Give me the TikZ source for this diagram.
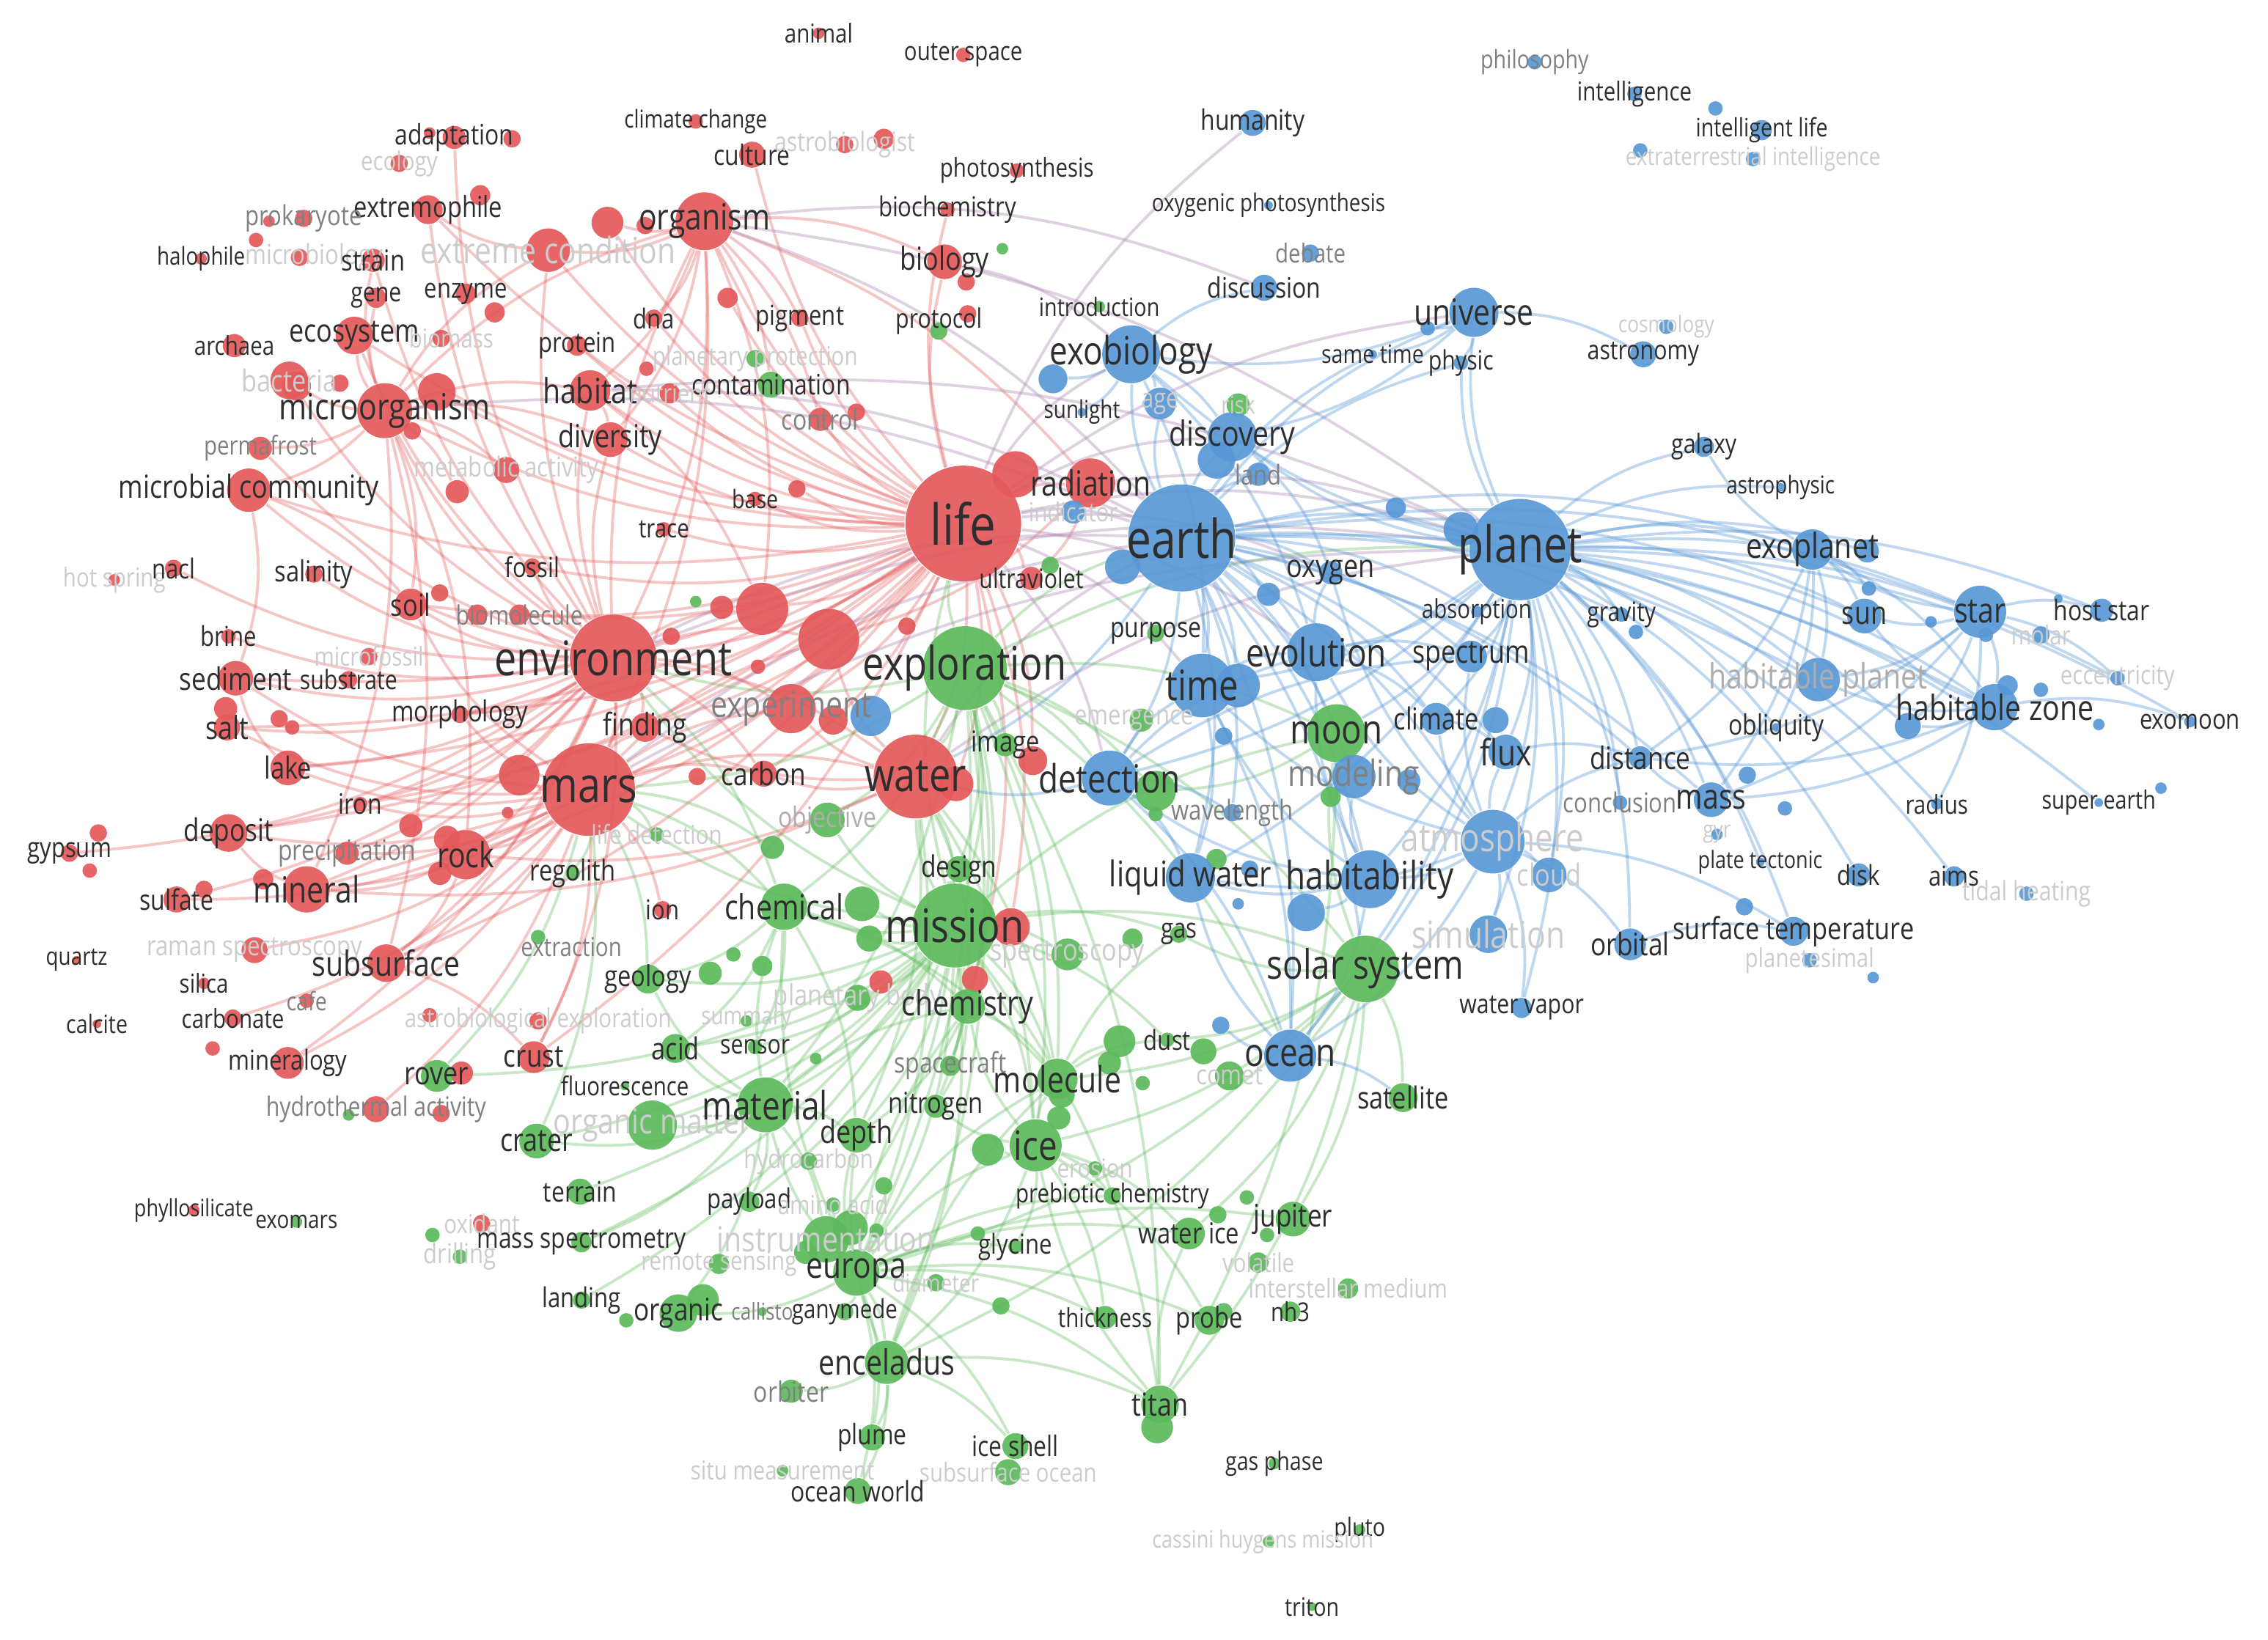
\documentclass[tikz,border=0pt]{standalone}
\usepackage{fontspec}
\setmainfont{Open Sans}[FakeStretch=0.83]
\definecolor{kred}{RGB}{228,88,90}
\definecolor{kgreen}{RGB}{92,186,92}
\definecolor{kblue}{RGB}{88,152,214}
\definecolor{kmix}{RGB}{175,140,180}
\pgfdeclarelayer{bg}\pgfdeclarelayer{edges}\pgfdeclarelayer{fg}
\pgfsetlayers{bg,edges,main,fg}
\tikzset{
 ball/.style={circle,inner sep=0pt,draw=none,fill opacity=0.92},
 lab/.style={inner sep=0pt,text=black!82},
 labg/.style={inner sep=0pt,text=black!50},
 labm/.style={inner sep=0pt,text=black!32},
 labf/.style={inner sep=0pt,text=black!20},
 er/.style={draw=kred,opacity=0.34,line width=0.55pt},
 eg/.style={draw=kgreen,opacity=0.34,line width=0.55pt},
 eb/.style={draw=kblue,opacity=0.38,line width=0.55pt},
 em/.style={draw=kmix,opacity=0.4,line width=0.55pt},
 lk/.style={bend left=14},
}
\newcommand\kw[8][lab]{%
 \node[ball,fill=#6,minimum size=#5*0.2mm] (#2) at (#3,#4) {};%
 \pgfmathsetmacro\kwfs{#7*0.2845}%
 \begin{pgfonlayer}{fg}\node[#1,font=\fontsize{\kwfs pt}{\kwfs pt}\selectfont] (#2-l) at (#2) {#8};\end{pgfonlayer}}
\newcommand\kdot[5]{\node[ball,fill=#5,minimum size=#4*0.2mm] (#1) at (#2,#3) {};}
\begin{document}
\begin{tikzpicture}[x=0.1mm,y=-0.1mm,line cap=round]
\useasboundingbox (0,0) rectangle (1568,1134);
\begin{pgfonlayer}{bg}\fill[white] (0,0) rectangle (1568,1134);\end{pgfonlayer}
% ---------------- red cluster
\kw{animal}{566}{23}{4}{kred}{18}{animal}
\kw{outerspace}{666}{38}{5}{kred}{18}{outer space}
\kw{climchange}{481}{84}{5}{kred}{17}{climate change}
\kw{culture}{520}{107}{9}{kred}{19.5}{culture}
\kw[labf]{astrobiologist}{584}{100}{6}{kred}{18.5}{astrobiologist}
\kdot{r2}{611}{96}{7}{kred}
\kw{photosyn}{703}{118}{5}{kred}{18}{photosynthesis}
\kw{biochem}{655}{145}{5}{kred}{19}{biochemistry}
\kw{organism}{487}{153}{20}{kred}{25}{organism}
\kdot{r3}{420}{154}{11}{kred}
\kdot{r4}{446}{156}{6}{kred}
\kw{biology}{653}{181}{12}{kred}{22}{biology}
\kdot{r5}{668}{195}{6}{kred}
\kdot{g1}{693}{172}{4}{kgreen}
\kw{pigment}{553}{220}{6}{kred}{19}{pigment}
\kdot{r6b}{669}{217}{6}{kred}
\kw[lab,yshift=0.7mm]{protocol}{649}{229}{6}{kgreen}{18.5}{protocol}
\kw{dna}{452}{220}{6}{kred}{19}{dna}
\kdot{r6}{503}{206}{7}{kred}
\kw{protein}{399}{239}{7}{kred}{19}{protein}
\kw[labf]{planprot}{522}{248}{6}{kgreen}{18}{planetary protection}
\kdot{r7}{447}{255}{5}{kred}
\kw{contamination}{533}{266}{9}{kgreen}{19.5}{contamination}
\kw{habitat}{408}{270}{14}{kred}{24}{habitat}
\kw[labf]{nutrient}{463}{272}{7}{kred}{18}{nutrient}
\kw[labg]{control}{567}{290}{8}{kred}{19.5}{control}
\kdot{r8}{592}{285}{6}{kred}
\kw{diversity}{422}{304}{12}{kred}{22}{diversity}
\kw{base}{522}{345}{5}{kred}{17.5}{base}
\kdot{r9}{551}{338}{6}{kred}
\kw{trace}{459}{366}{5}{kred}{18}{trace}
\kdot{r10}{702}{328}{16}{kred}
\kw{radiation}{754}{334}{17}{kred}{24}{radiation}
\kw[labf]{indicator}{742}{354}{8}{kblue}{18}{indicator}
\kw{life}{666}{362}{40}{kred}{39}{life}
\kw{adaptation}{314}{95}{8}{kred}{19.5}{adaptation}
\kdot{r11}{354}{96}{6}{kred}
\kdot{r12}{297}{92}{4}{kred}
\kw[labf]{ecology}{276}{113}{6}{kred}{18}{ecology}
\kw{extremophile}{296}{145}{10}{kred}{20}{extremophile}
\kdot{r13}{332}{135}{7}{kred}
\kw[labg]{prokaryote}{210}{151}{6}{kred}{19}{prokaryote}
\kdot{r14}{186}{153}{4}{kred}
\kdot{r15}{177}{166}{5}{kred}
\kw{halophile}{139}{179}{4}{kred}{17}{halophile}
\kw[labf,xshift=1mm]{microbiology}{207}{178}{6}{kred}{19}{microbiology}
\kw{strain}{258}{180}{8}{kred}{20}{strain}
\kw[labf]{extremecond}{379}{173}{15}{kred}{25}{extreme condition}
\kw{gene}{260}{206}{7}{kred}{18.5}{gene}
\kw{enzyme}{322}{203}{7}{kred}{19}{enzyme}
\kdot{r16}{342}{216}{7}{kred}
\kw{ecosystem}{245}{232}{13}{kred}{22}{ecosystem}
\kw[labf,xshift=0.7mm]{biomass}{305}{234}{6}{kred}{18}{biomass}
\kw{archaea}{162}{239}{8}{kred}{18}{archaea}
\kw[labf]{bacteria}{200}{263}{13}{kred}{21}{bacteria}
\kdot{r17}{205}{267}{10}{kred}
\kdot{r18}{235}{265}{6}{kred}
\kdot{r19}{302}{271}{13}{kred}
\kw{microorganism}{266}{284}{19}{kred}{25}{microorganism}
\kdot{r20}{285}{298}{6}{kred}
\kw[labg]{permafrost}{180}{310}{8}{kred}{18}{permafrost}
\kw[labf]{metabolic}{350}{325}{9}{kred}{19}{metabolic activity}
\kdot{r21}{316}{340}{8}{kred}
\kw{microbialcom}{172}{339}{15}{kred}{22}{microbial community}
\kw[labf]{hotspring}{79}{401}{4}{kred}{18}{hot spring}
\kw{nacl}{120}{393}{6}{kred}{19}{nacl}
\kw{salinity}{217}{397}{6}{kred}{20}{salinity}
\kw{fossil}{368}{392}{6}{kred}{19}{fossil}
\kw{soil}{284}{418}{11}{kred}{21}{soil}
\kdot{r22}{304}{410}{6}{kred}
\kdot{r23}{330}{425}{7}{kred}
\kw[labg]{biomolecule}{359}{425}{7}{kred}{18.5}{biomolecule}
\kw{brine}{158}{440}{5}{kred}{19}{brine}
\kw[labf]{microfossil}{255}{454}{6}{kred}{18}{microfossil}
\kw{sediment}{163}{469}{12}{kred}{21.5}{sediment}
\kw{substrate}{241}{470}{6}{kred}{18.5}{substrate}
\kdot{r24}{156}{490}{8}{kred}
\kw{salt}{157}{503}{9}{kred}{22}{salt}
\kdot{r25}{193}{497}{6}{kred}
\kdot{r26}{202}{503}{5}{kred}
\kw{environment}{424}{455}{30}{kred}{33}{environment}
\kw{morphology}{318}{494}{6}{kred}{20}{morphology}
\kw{finding}{446}{503}{10}{kred}{21.5}{finding}
\kw{lake}{199}{531}{12}{kred}{21}{lake}
\kdot{r27}{359}{536}{14}{kred}
\kw{mars}{407}{546}{32}{kred}{34}{mars}
\kw{iron}{249}{556}{5}{kred}{19.5}{iron}
\kdot{r28}{284}{571}{8}{kred}
\kdot{r29}{351}{562}{4}{kred}
\kw{deposit}{158}{576}{13}{kred}{21.5}{deposit}
\kw{gypsum}{48}{590}{6}{kred}{19}{gypsum}
\kdot{r30}{68}{576}{6}{kred}
\kdot{r31}{62}{602}{5}{kred}
\kw[labg]{precipitation}{240}{590}{8}{kred}{19.5}{precipitation}
\kdot{r32}{309}{580}{9}{kred}
\kdot{r33}{304}{604}{8}{kred}
\kw{rock}{322}{591}{17}{kred}{24}{rock}
\kw{sulfate}{122}{622}{9}{kred}{19.5}{sulfate}
\kdot{r34}{141}{615}{6}{kred}
\kdot{r35}{182}{608}{7}{kred}
\kw{mineral}{212}{615}{16}{kred}{25}{mineral}
\kw{quartz}{53}{664}{3}{kred}{17}{quartz}
\kw[labf]{raman}{176}{657}{9}{kred}{19}{raman spectroscopy}
\kw{subsurface}{267}{666}{13}{kred}{24}{subsurface}
\kw{silica}{141}{680}{4}{kred}{18}{silica}
\kw[labg]{cafe}{212}{692}{5}{kred}{17.5}{cafe}
\kw{calcite}{67}{708}{3}{kred}{17.5}{calcite}
\kw{carbonate}{161}{704}{6}{kred}{18}{carbonate}
\kw[labf]{astroexpl}{372}{706}{6}{kred}{18}{astrobiological exploration}
\kdot{r36}{297}{702}{5}{kred}
\kw{mineralogy}{199}{735}{11}{kred}{19}{mineralogy}
\kdot{r37}{147}{725}{5}{kred}
\kw{crust}{369}{731}{11}{kred}{21.5}{crust}
\kw[labg]{hydrothermal}{260}{767}{9}{kred}{18.5}{hydrothermal activity}
\kdot{r38}{305}{770}{6}{kred}
\kdot{g2}{241}{771}{4}{kgreen}
\kw{phyllosilicate}{134}{837}{4}{kred}{16.5}{phyllosilicate}
\kw[labf]{oxidant}{333}{846}{6}{kred}{18}{oxidant}
\kdot{g3}{299}{854}{5}{kgreen}
\kw{ion}{458}{629}{6}{kred}{19}{ion}
\kdot{rbig1}{527}{421}{18}{kred}
\kdot{rbig2}{573}{442}{21}{kred}
\kdot{r39}{576}{498}{10}{kred}
\kdot{r40}{499}{420}{8}{kred}
\kdot{r41}{464}{440}{6}{kred}
\kdot{r42}{627}{433}{6}{kred}
\kdot{r43}{524}{461}{5}{kred}
\kdot{r44}{482}{537}{6}{kred}
\kdot{r45}{661}{542}{12}{kred}
\kdot{r46}{714}{526}{10}{kred}
\kdot{r47}{699}{641}{13}{kred}
\kdot{r48}{609}{679}{8}{kred}
\kdot{r49}{674}{677}{9}{kred}
\kdot{r50}{319}{742}{8}{kred}
\kw[labg]{experiment}{547}{490}{17}{kred}{25}{experiment}
\kdot{b1}{602}{495}{14}{kblue}
\kw{carbon}{528}{535}{9}{kred}{21.5}{carbon}
\kw{water}{633}{537}{29}{kred}{32}{water}
\kw{ultraviolet}{713}{400}{8}{kred}{18.5}{ultraviolet}
% ---------------- green cluster
\kw{introduction}{760}{212}{4}{kgreen}{17.5}{introduction}
\kw[labf]{risk}{856}{280}{8}{kgreen}{17}{risk}
\kw{exploration}{667}{462}{29}{kgreen}{32}{exploration}
\kdot{g4}{481}{416}{4}{kgreen}
\kdot{g5}{726}{391}{6}{kgreen}
\kw{image}{695}{515}{8}{kgreen}{20}{image}
\kw[labm]{objective}{572}{567}{12}{kgreen}{19.5}{objective}
\kw[labf]{lifedetect}{454}{577}{5}{kgreen}{18}{life detection}
\kdot{g6}{534}{586}{8}{kgreen}
\kw{design}{663}{601}{9}{kgreen}{20.5}{design}
\kw{chemical}{542}{627}{16}{kgreen}{24}{chemical}
\kdot{g7}{596}{625}{12}{kgreen}
\kdot{g8}{601}{649}{9}{kgreen}
\kw{mission}{660}{640}{29}{kgreen}{32}{mission}
\kw[labf]{spectroscopy}{738}{660}{11}{kgreen}{21}{spectroscopy}
\kw{geology}{448}{677}{10}{kgreen}{20}{geology}
\kdot{g9}{491}{673}{8}{kgreen}
\kdot{g10}{507}{660}{5}{kgreen}
\kdot{g11}{527}{668}{7}{kgreen}
\kw{regolith}{396}{604}{5}{kgreen}{20}{regolith}
\kw[labg,xshift=2.3mm,yshift=-0.7mm]{extraction}{372}{648}{5}{kgreen}{18}{extraction}
\kw[labf]{planbody}{593}{690}{9}{kgreen}{20}{planetary body}
\kw{chemistry}{669}{696}{12}{kgreen}{24}{chemistry}
\kw{acid}{467}{725}{10}{kgreen}{21}{acid}
\kw[labf]{summary}{516}{706}{4}{kgreen}{17}{summary}
\kw{sensor}{522}{724}{5}{kgreen}{18.5}{sensor}
\kdot{g12}{564}{732}{4}{kgreen}
\kw[labg]{spacecraft}{657}{737}{7}{kgreen}{19.5}{spacecraft}
\kdot{g13}{774}{720}{11}{kgreen}
\kdot{g14}{767}{735}{8}{kgreen}
\kdot{g15}{790}{749}{5}{kgreen}
\kdot{g18}{734}{757}{9}{kgreen}
\kw{molecule}{731}{746}{14}{kgreen}{25}{molecule}
\kw{fluorescence}{432}{751}{3}{kgreen}{18}{fluorescence}
\kw[labf]{organicmatter}{451}{778}{17}{kgreen}{24}{organic matter}
\kw{material}{529}{764}{19}{kgreen}{27}{material}
\kw{crater}{371}{789}{12}{kgreen}{22}{crater}
\kw{rover}{302}{744}{11}{kgreen}{22}{rover}
\kw{nitrogen}{647}{765}{8}{kgreen}{20}{nitrogen}
\kw{depth}{592}{785}{12}{kgreen}{22}{depth}
\kdot{g16}{683}{795}{11}{kgreen}
\kdot{g17}{732}{773}{8}{kgreen}
\kw{ice}{716}{792}{18}{kgreen}{28}{ice}
\kw[labf]{hydrocarbon}{559}{803}{6}{kgreen}{18}{hydrocarbon}
\kw[labf]{erosion}{757}{808}{5}{kgreen}{18}{erosion}
\kw{terrain}{401}{824}{9}{kgreen}{19.5}{terrain}
\kw{payload}{518}{831}{7}{kgreen}{19}{payload}
\kw[labf]{aminoacid}{576}{833}{5}{kgreen}{18}{amino acid}
\kdot{g19}{611}{820}{6}{kgreen}
\kw{prebiotic}{769}{827}{6}{kgreen}{18}{prebiotic chemistry}
\kdot{g20}{588}{849}{12}{kgreen}
\kdot{g21}{557}{866}{8}{kgreen}
\kdot{g22}{606}{851}{5}{kgreen}
\kw[labf]{instrumentation}{571}{857}{16}{kgreen}{24}{instrumentation}
\kw{massspec}{402}{859}{7}{kgreen}{19.5}{mass spectrometry}
\kw[labf]{remotesensing}{497}{874}{7}{kgreen}{18}{remote sensing}
\kw{glycine}{702}{862}{5}{kgreen}{19}{glycine}
\kdot{g23}{676}{853}{5}{kgreen}
\kw{waterice}{822}{853}{11}{kgreen}{20}{water ice}
\kdot{g24}{842}{840}{6}{kgreen}
\kdot{g25}{862}{828}{5}{kgreen}
\kw{jupiter}{894}{843}{12}{kgreen}{21.5}{jupiter}
\kdot{g26}{876}{854}{5}{kgreen}
\kw[labf]{volatile}{870}{873}{7}{kgreen}{18}{volatile}
\kw{europa}{592}{880}{16}{kgreen}{25}{europa}
\kw[labf]{diameter}{647}{887}{6}{kgreen}{17}{diameter}
\kw{landing}{402}{899}{6}{kgreen}{19}{landing}
\kdot{g27}{486}{899}{11}{kgreen}
\kdot{g28}{433}{913}{5}{kgreen}
\kw{organic}{469}{908}{13}{kgreen}{21.5}{organic}
\kw[labg]{callisto}{527}{907}{3}{kgreen}{16}{callisto}
\kw{ganymede}{584}{907}{6}{kgreen}{18}{ganymede}
\kw{thickness}{764}{911}{8}{kgreen}{18}{thickness}
\kdot{g29}{692}{903}{6}{kgreen}
\kdot{g30}{846}{907}{6}{kgreen}
\kw{probe}{836}{913}{10}{kgreen}{20}{probe}
\kw{nh3}{892}{907}{7}{kgreen}{18}{nh3}
\kw[labf]{ism}{932}{891}{7}{kgreen}{18}{interstellar medium}
\kw{enceladus}{613}{942}{15}{kgreen}{24}{enceladus}
\kw[labg]{orbiter}{547}{962}{8}{kgreen}{19.5}{orbiter}
\kdot{g31}{800}{987}{11}{kgreen}
\kw{titan}{802}{971}{13}{kgreen}{22}{titan}
\kw{plume}{603}{994}{9}{kgreen}{19.5}{plume}
\kw[labf]{subocean}{697}{1018}{9}{kgreen}{18}{subsurface ocean}
\kw{iceshell}{702}{1000}{9}{kgreen}{19.5}{ice shell}
\kw[labf]{situ}{541}{1017}{4}{kgreen}{18}{situ measurement}
\kw{oceanworld}{593}{1031}{9}{kgreen}{19.5}{ocean world}
\kw{gasphase}{881}{1012}{4}{kgreen}{17.5}{gas phase}
\kw{pluto}{940}{1058}{4}{kgreen}{17.5}{pluto}
\kw[labf,xshift=-0.4mm]{cassini}{877}{1066}{4}{kgreen}{16.5}{cassini huygens mission}
\kw{triton}{907}{1111}{3}{kgreen}{17.5}{triton}
\kw{satellite}{970}{759}{10}{kgreen}{21}{satellite}
\kw{dust}{807}{719}{5}{kgreen}{19}{dust}
\kdot{g33}{832}{727}{9}{kgreen}
\kw[labf]{comet}{850}{744}{10}{kgreen}{19}{comet}
\kdot{g34}{783}{649}{7}{kgreen}
\kw{gas}{815}{646}{6}{kgreen}{19}{gas}
\kw{moon}{924}{507}{20}{kgreen}{28}{moon}
\kdot{g35}{920}{551}{7}{kgreen}
\kdot{g36}{799}{547}{14}{kgreen}
\kdot{g37}{799}{563}{5}{kgreen}
\kdot{g38}{841}{594}{7}{kgreen}
\kw{solarsystem}{944}{670}{23}{kgreen}{28}{solar system}
\kw{purpose}{799}{438}{6}{kgreen}{19.5}{purpose}
\kw[labf,xshift=-0.5mm]{emergence}{789}{498}{8}{kgreen}{19}{emergence}
\kw{exomars}{205}{845}{4}{kgreen}{17}{exomars}
\kw[labf]{drilling}{318}{869}{5}{kgreen}{19}{drilling}
% ---------------- blue cluster
\kdot{b2}{776}{392}{12}{kblue}
\kw{earth}{817}{372}{37}{kblue}{37}{earth}
\kdot{b4}{1010}{366}{12}{kblue}
\kdot{b5}{965}{351}{7}{kblue}
\kw{planet}{1051}{380}{35}{kblue}{35}{planet}
\kw{humanity}{866}{85}{9}{kblue}{19.5}{humanity}
\kw[labg]{philosophy}{1061}{43}{5}{kblue}{17.5}{philosophy}
\kw{intelligence}{1130}{65}{5}{kblue}{18}{intelligence}
\kdot{b6}{1186}{75}{5}{kblue}
\kw{intlife}{1218}{90}{7}{kblue}{17.5}{intelligent life}
\kw[labf]{eti}{1212}{110}{5}{kblue}{17}{extraterrestrial intelligence}
\kdot{b7}{1134}{104}{5}{kblue}
\kw{oxyphoto}{877}{142}{3}{kblue}{17}{oxygenic photosynthesis}
\kw[labg]{debate}{906}{175}{6}{kblue}{18}{debate}
\kw{discussion}{874}{199}{9}{kblue}{19.5}{discussion}
\kdot{b8}{987}{227}{5}{kblue}
\kw{universe}{1019}{216}{17}{kblue}{25}{universe}
\kw[labf]{cosmology}{1152}{226}{5}{kblue}{16}{cosmology}
\kw{astronomy}{1136}{245}{9}{kblue}{18.5}{astronomy}
\kw{sametime}{949}{245}{3}{kblue}{17.5}{same time}
\kw{physic}{1010}{251}{5}{kblue}{18.5}{physic}
\kdot{b9}{728}{262}{10}{kblue}
\kw{exobiology}{782}{245}{20}{kblue}{27}{exobiology}
\kw{sunlight}{748}{285}{3}{kblue}{17}{sunlight}
\kw[labf]{age}{802}{279}{11}{kblue}{19}{age}
\kdot{b10}{841}{318}{13}{kblue}
\kw{discovery}{852}{302}{17}{kblue}{24}{discovery}
\kw[labg]{land}{870}{328}{8}{kblue}{19}{land}
\kw{galaxy}{1178}{309}{7}{kblue}{18.5}{galaxy}
\kw{astrophysic}{1231}{337}{3}{kblue}{17}{astrophysic}
\kdot{b11}{1291}{381}{8}{kblue}
\kw{exoplanet}{1253}{380}{14}{kblue}{24}{exoplanet}
\kdot{b12}{1292}{407}{5}{kblue}
\kw{sun}{1289}{426}{12}{kblue}{22}{sun}
\kdot{b13}{1335}{430}{4}{kblue}
\kdot{b14}{1373}{439}{5}{kblue}
\kw{star}{1369}{423}{18}{kblue}{24}{star}
\kw{hoststar}{1453}{422}{8}{kblue}{19.5}{host star}
\kdot{b15}{1423}{414}{3}{kblue}
\kw[labf]{molar}{1411}{439}{6}{kblue}{18}{molar}
\kw{gravity}{1121}{425}{5}{kblue}{18.5}{gravity}
\kdot{b16}{1131}{437}{5}{kblue}
\kw{absorption}{1021}{423}{4}{kblue}{18}{absorption}
\kdot{b17}{877}{411}{8}{kblue}
\kw{oxygen}{920}{396}{8}{kblue}{22}{oxygen}
\kw{spectrum}{1017}{454}{11}{kblue}{22}{spectrum}
\kw{evolution}{910}{451}{20}{kblue}{27}{evolution}
\kdot{b18}{856}{474}{15}{kblue}
\kw{time}{831}{474}{22}{kblue}{29}{time}
\kw[labm]{habplanet}{1257}{470}{15}{kblue}{24}{habitable planet}
\kw[labf]{eccentricity}{1464}{469}{5}{kblue}{18}{eccentricity}
\kdot{b19}{1034}{498}{9}{kblue}
\kw{climate}{993}{497}{11}{kblue}{21}{climate}
\kw{flux}{1041}{520}{12}{kblue}{25}{flux}
\kw{obliquity}{1228}{503}{3}{kblue}{19.5}{obliquity}
\kdot{b20}{1388}{474}{7}{kblue}
\kdot{b21}{1411}{477}{5}{kblue}
\kdot{b22}{1319}{502}{9}{kblue}
\kw{habzone}{1379}{489}{16}{kblue}{24}{habitable zone}
\kw{exomoon}{1514}{499}{4}{kblue}{19}{exomoon}
\kdot{b23}{1451}{501}{4}{kblue}
\kw{distance}{1134}{524}{8}{kblue}{21.5}{distance}
\kw{detection}{767}{538}{19}{kblue}{27}{detection}
\kw[labg]{conclusion}{1120}{555}{5}{kblue}{19}{conclusion}
\kdot{b24}{1208}{536}{6}{kblue}
\kdot{b25}{1234}{559}{5}{kblue}
\kw{mass}{1183}{553}{12}{kblue}{24}{mass}
\kw{radius}{1339}{556}{4}{kblue}{18}{radius}
\kw{superearth}{1451}{555}{3}{kblue}{17.5}{super earth}
\kdot{b26}{1494}{545}{4}{kblue}
\kw[labf]{atmosphere}{1032}{582}{22}{kblue}{27}{atmosphere}
\kw[labf]{cloud}{1071}{605}{12}{kblue}{21}{cloud}
\kw[labf]{gyr}{1187}{577}{4}{kblue}{16}{gyr}
\kw{platetect}{1217}{596}{3}{kblue}{16.5}{plate tectonic}
\kw{disk}{1285}{605}{8}{kblue}{19}{disk}
\kw{aims}{1351}{606}{7}{kblue}{19}{aims}
\kw[labf]{tidal}{1401}{618}{5}{kblue}{18.5}{tidal heating}
\kw{liquidwater}{823}{607}{17}{kblue}{24.5}{liquid water}
\kdot{b27}{903}{631}{13}{kblue}
\kw{habitability}{947}{608}{20}{kblue}{27}{habitability}
\kw[labf]{simulation}{1029}{646}{13}{kblue}{26}{simulation}
\kw{orbital}{1127}{653}{11}{kblue}{21.5}{orbital}
\kdot{b28}{1206}{627}{6}{kblue}
\kw{surftemp}{1240}{644}{10}{kblue}{21}{surface temperature}
\kw[labf]{planetesimal}{1251}{664}{5}{kblue}{18}{planetesimal}
\kdot{b29}{1295}{676}{4}{kblue}
\kw{watervapor}{1052}{697}{7}{kblue}{18.5}{water vapor}
\kdot{b30}{844}{709}{6}{kblue}
\kw{ocean}{892}{730}{18}{kblue}{27}{ocean}
\kdot{b31}{974}{540}{8}{kblue}
\kw[labg]{modeling}{936}{537}{15}{kblue}{25}{modeling}
\kw[labg]{wavelength}{852}{562}{6}{kblue}{19}{wavelength}
\kdot{b32}{846}{509}{6}{kblue}
\kdot{b33}{864}{601}{6}{kblue}
\kdot{b34}{856}{625}{4}{kblue}
% ---------------- links
\begin{pgfonlayer}{edges}
\foreach \a/\b in {life/environment,life/mars,life/water,life/organism,life/microorganism,life/habitat,life/biology,life/radiation,life/diversity,life/dna,life/pigment,life/control,life/base,life/trace,life/fossil,life/soil,life/extremecond,life/microbialcom,life/carbon,life/finding,life/ultraviolet,life/biomolecule,life/protein,life/culture,life/biochem,life/rbig1,life/rbig2,life/experiment,life/rock,life/mineral,life/subsurface,life/ecosystem,life/extremophile,life/salt,life/r10,life/r45,life/r46,life/r3,life/r6,life/nutrient,life/r9,life/r19,life/morphology,life/sediment,life/deposit,life/lake,life/crust,life/iron,life/r47,life/r49,
environment/mars,environment/microorganism,environment/microbialcom,environment/organism,environment/habitat,environment/soil,environment/sediment,environment/salt,environment/lake,environment/rock,environment/mineral,environment/deposit,environment/subsurface,environment/diversity,environment/extremecond,environment/ecosystem,environment/morphology,environment/precipitation,environment/fossil,environment/water,environment/iron,environment/brine,environment/salinity,environment/nacl,environment/biomolecule,environment/crust,environment/mineralogy,environment/extremophile,environment/strain,environment/bacteria,environment/rbig1,environment/rbig2,environment/finding,environment/experiment,environment/carbon,environment/permafrost,environment/adaptation,environment/gypsum,environment/sulfate,
mars/rock,mars/mineral,mars/deposit,mars/subsurface,mars/crust,mars/lake,mars/iron,mars/precipitation,mars/water,mars/carbon,mars/ion,mars/sulfate,mars/mineralogy,mars/hydrothermal,mars/sediment,mars/salt,mars/soil,mars/morphology,mars/rbig2,mars/experiment,mars/finding,mars/r27,mars/carbonate,mars/raman,
microorganism/microbialcom,microorganism/organism,microorganism/habitat,microorganism/ecosystem,microorganism/permafrost,microorganism/metabolic,microorganism/soil,microorganism/diversity,microorganism/strain,microorganism/extremecond,microorganism/bacteria,microorganism/gene,microorganism/rock,microorganism/mineral,microorganism/subsurface,microorganism/r21,
organism/habitat,organism/diversity,organism/biology,organism/extremecond,organism/contamination,organism/pigment,organism/dna,organism/radiation,organism/control,organism/rbig1,organism/r3,organism/environment,organism/mars,
water/carbon,water/finding,water/rbig2,water/experiment,water/r45,water/rock,water/mineral,radiation/ultraviolet,radiation/rbig2,habitat/diversity,habitat/rbig1,extremecond/extremophile,microbialcom/soil,microbialcom/sediment,rock/mineral,rock/subsurface,mineral/deposit,subsurface/crust,lake/sediment}
 {\draw[er] (\a) to[lk] (\b);}
\foreach \a/\b in {life/earth,life/planet,life/exobiology,life/universe,life/discovery,life/evolution,life/time,life/detection,life/oxygen,organism/earth,organism/planet,environment/earth,mars/earth,water/earth,water/planet,environment/planet,habitat/earth,radiation/earth,radiation/planet,biology/exobiology,organism/discussion,life/humanity,mars/planet,microorganism/earth,habitat/planet}
 {\draw[em] (\a) to[lk] (\b);}
\foreach \a/\b in {exploration/mission,exploration/chemical,exploration/objective,exploration/design,exploration/moon,exploration/solarsystem,exploration/europa,exploration/enceladus,exploration/ice,exploration/material,exploration/spacecraft,exploration/molecule,exploration/detection,exploration/water,exploration/mars,exploration/environment,exploration/life,exploration/titan,exploration/ocean,exploration/chemistry,exploration/image,exploration/g36,exploration/earth,exploration/planet,
mission/chemical,mission/chemistry,mission/material,mission/europa,mission/ice,mission/depth,mission/instrumentation,mission/payload,mission/spacecraft,mission/sensor,mission/geology,mission/acid,mission/organicmatter,mission/crater,mission/molecule,mission/solarsystem,mission/moon,mission/enceladus,mission/titan,mission/design,mission/mars,mission/rover,mission/water,mission/objective,mission/nitrogen,mission/spectroscopy,mission/landing,mission/massspec,mission/terrain,mission/g7,mission/g8,mission/planbody,mission/gas,mission/dust,mission/life,mission/environment,
europa/enceladus,europa/ice,europa/glycine,europa/waterice,europa/jupiter,europa/organic,europa/material,europa/depth,europa/molecule,europa/prebiotic,europa/chemistry,europa/plume,europa/ganymede,europa/titan,europa/oceanworld,europa/iceshell,europa/thickness,europa/probe,europa/instrumentation,europa/aminoacid,europa/chemical,
solarsystem/moon,solarsystem/titan,solarsystem/jupiter,solarsystem/waterice,solarsystem/satellite,solarsystem/gas,solarsystem/molecule,solarsystem/dust,solarsystem/ice,solarsystem/europa,solarsystem/enceladus,
ice/molecule,ice/waterice,ice/thickness,ice/probe,ice/chemistry,ice/nitrogen,ice/enceladus,ice/g16,ice/glycine,ice/prebiotic,
material/organicmatter,material/chemical,material/massspec,material/acid,material/depth,material/organic,material/crater,material/geology,material/chemistry,material/instrumentation,material/payload,
chemical/chemistry,chemical/geology,chemical/acid,chemical/sensor,chemical/molecule,chemical/depth,chemistry/molecule,chemistry/nitrogen,chemistry/depth,molecule/dust,molecule/gas,molecule/g13,moon/g36,moon/titan,
enceladus/plume,enceladus/titan,enceladus/orbiter,enceladus/iceshell,enceladus/oceanworld,enceladus/molecule,enceladus/depth,titan/waterice,titan/ice,
mars/rover,mars/geology,mars/chemical,mars/regolith,mars/lifedetect,mars/g6,mars/crater,environment/chemical,water/mission,water/chemistry,water/molecule,water/ice,water/depth,water/europa}
 {\draw[eg] (\a) to[lk] (\b);}
\foreach \a/\b in {earth/planet,earth/exobiology,earth/discovery,earth/time,earth/evolution,earth/oxygen,earth/detection,earth/liquidwater,earth/habitability,earth/ocean,earth/atmosphere,earth/universe,earth/climate,earth/spectrum,earth/star,earth/sun,earth/exoplanet,earth/habzone,earth/mass,earth/distance,earth/flux,earth/moon,earth/age,earth/land,earth/wavelength,earth/modeling,earth/gravity,earth/absorption,earth/physic,earth/sametime,earth/b2,earth/b17,earth/solarsystem,earth/habplanet,earth/b18,earth/water,
planet/exoplanet,planet/star,planet/sun,planet/habzone,planet/habplanet,planet/mass,planet/distance,planet/flux,planet/atmosphere,planet/universe,planet/galaxy,planet/astrophysic,planet/orbital,planet/gravity,planet/absorption,planet/spectrum,planet/climate,planet/evolution,planet/habitability,planet/surftemp,planet/watervapor,planet/radius,planet/superearth,planet/hoststar,planet/ocean,planet/solarsystem,planet/simulation,planet/platetect,planet/obliquity,planet/disk,planet/exomoon,planet/time,planet/detection,planet/liquidwater,planet/moon,planet/physic,planet/discovery,planet/exobiology,planet/cloud,planet/conclusion,planet/eccentricity,planet/b4,planet/b22,planet/b11,planet/aims,
star/habzone,star/hoststar,star/sun,star/exoplanet,star/habplanet,star/mass,star/eccentricity,star/radius,star/distance,star/b22,
exoplanet/habzone,exoplanet/sun,exoplanet/habplanet,exoplanet/distance,exoplanet/mass,exoplanet/obliquity,exoplanet/galaxy,exoplanet/b12,
habzone/habplanet,habzone/mass,habzone/distance,habzone/sun,habzone/exomoon,habzone/b22,habzone/b20,
atmosphere/climate,atmosphere/flux,atmosphere/ocean,atmosphere/habitability,atmosphere/simulation,atmosphere/cloud,atmosphere/watervapor,atmosphere/surftemp,atmosphere/oxygen,atmosphere/spectrum,atmosphere/time,atmosphere/evolution,atmosphere/liquidwater,atmosphere/distance,atmosphere/orbital,
habitability/ocean,habitability/liquidwater,habitability/time,habitability/detection,habitability/evolution,habitability/modeling,habitability/b27,habitability/moon,
detection/time,detection/evolution,detection/liquidwater,detection/wavelength,detection/spectrum,detection/ocean,detection/water,
universe/physic,universe/discovery,universe/exobiology,universe/sametime,universe/astronomy,universe/b8,
exobiology/discovery,exobiology/sunlight,exobiology/age,exobiology/discussion,exobiology/time,exobiology/b9,exobiology/evolution,
time/evolution,time/liquidwater,time/ocean,time/b18,evolution/spectrum,evolution/climate,evolution/oxygen,ocean/liquidwater,ocean/satellite,ocean/b30,climate/flux,flux/distance,mass/distance,orbital/surftemp,discovery/b10,discovery/oxygen}
 {\draw[eb] (\a) to[lk] (\b);}
\end{pgfonlayer}
\end{tikzpicture}
\end{document}
